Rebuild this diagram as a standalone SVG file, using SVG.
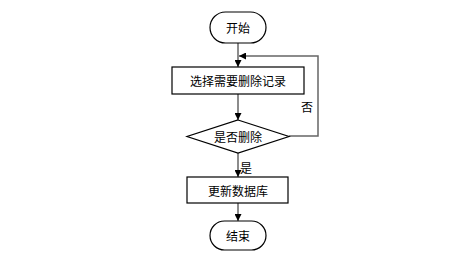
<svg xmlns="http://www.w3.org/2000/svg" width="459" height="264" viewBox="0 0 459 264">
<style>
.n{fill:#fff;stroke:#000;stroke-width:1.2}
.t{font-family:"Noto Sans CJK SC","Liberation Sans",sans-serif;font-size:12px;fill:#000;text-anchor:middle;dominant-baseline:central}
.c{fill:none;stroke:#666;stroke-width:1.5}
</style>
<defs>
<marker id="a" viewBox="0 0 10 10" refX="10" refY="5" markerWidth="7" markerHeight="7" markerUnits="userSpaceOnUse" orient="auto">
<path d="M0,0L10,5L0,10z" fill="#000"/>
</marker>
</defs>
<rect width="459" height="264" fill="#fff"/>
<g id="connectors">
<path class="c" d="M238,43V67" marker-end="url(#a)"/>
<path class="c" d="M238,94V120" marker-end="url(#a)"/>
<path class="c" d="M289,136H318V56H239" marker-end="url(#a)"/>
<path class="c" d="M238,153V177" marker-end="url(#a)"/>
<path class="c" d="M238,203V221" marker-end="url(#a)"/>
<text class="t" x="307" y="106">否</text>
<text class="t" x="246" y="167">是</text>
</g>
<g id="start">
<rect class="n" x="210" y="12" width="56" height="31" rx="15.5"/>
<text class="t" x="238" y="27.5">开始</text>
</g>
<g id="select">
<rect class="n" x="172" y="67" width="132" height="27"/>
<text class="t" x="238" y="80.5">选择需要删除记录</text>
</g>
<g id="decide">
<polygon class="n" points="238,120 289,136.5 238,153 187,136.5"/>
<text class="t" x="238" y="136.5">是否删除</text>
</g>
<g id="update">
<rect class="n" x="187" y="177" width="101" height="26"/>
<text class="t" x="238" y="190">更新数据库</text>
</g>
<g id="end">
<rect class="n" x="210" y="221" width="56" height="29" rx="14.5"/>
<text class="t" x="238" y="235.5">结束</text>
</g>
</svg>
